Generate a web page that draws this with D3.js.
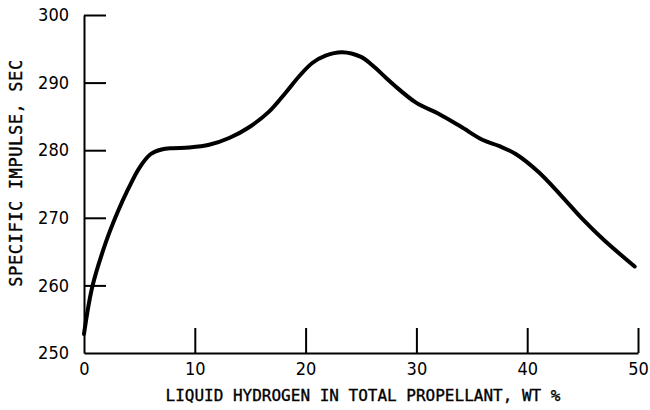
<!DOCTYPE html>
<html>
<head>
<meta charset="utf-8">
<script src="https://cdn.jsdelivr.net/npm/d3@7"></script>
<style>
  html, body { margin: 0; padding: 0; background: #fff; }
  svg { display: block; }
  .tick text { font-family: "Liberation Sans Narrow", "DejaVu Sans Condensed", "Liberation Sans", sans-serif; font-size: 18px; fill: #000; }
  .title { font-family: "DejaVu Sans Mono", "Liberation Mono", monospace; fill: #000; stroke: #000; stroke-width: 0.35px; }
</style>
</head>
<body>
<script>
// Data
const hydrogenPct = [0, 0.75, 2, 3, 4, 5, 6, 7, 8, 9.5, 11.3, 13.1, 14.9, 16.7, 18.2, 19.4, 20.6, 21.8, 23.3, 25, 26, 27.2, 28, 30, 32, 34, 36, 37.5, 39, 41, 43, 45, 47, 49.7];
const specificImpulse = [252.8, 259.8, 266.5, 270.7, 274.3, 277.4, 279.4, 280.1, 280.3, 280.4, 280.8, 281.8, 283.4, 285.7, 288.5, 290.9, 292.9, 294.0, 294.5, 293.8, 292.6, 290.8, 289.6, 287.0, 285.4, 283.5, 281.5, 280.6, 279.4, 276.8, 273.4, 269.8, 266.6, 262.8];
const xTicks = [0, 10, 20, 30, 40, 50];
const yTicks = [250, 260, 270, 280, 290, 300];
const xTitle = "LIQUID HYDROGEN IN TOTAL PROPELLANT, WT %";
const yTitle = "SPECIFIC IMPULSE, SEC";

const W = 650, H = 410;
const svg = d3.select("body").append("svg").attr("width", W).attr("height", H);

const x = d3.scaleLinear().domain([0, 50]).range([84, 638]);
const y = d3.scaleLinear().domain([250, 300]).range([353, 15]);

// Y axis
const gy = svg.append("g").attr("transform", `translate(${x(0)},0)`)
  .call(d3.axisLeft(y).tickValues(yTicks).tickSize(-22).tickSizeOuter(0).tickPadding(15).tickFormat(d3.format("d")));
gy.select(".domain").attr("stroke", "#000").attr("stroke-width", 2);
gy.selectAll(".tick line").attr("stroke", "#000").attr("stroke-width", 2)
  .filter(d => d === 250).remove();

// X axis
const gx = svg.append("g").attr("transform", `translate(0,${y(250)})`)
  .call(d3.axisBottom(x).tickValues(xTicks).tickSize(-25).tickSizeOuter(0).tickPadding(9).tickFormat(d3.format("d")));
gx.select(".domain").attr("stroke", "#000").attr("stroke-width", 2);
gx.selectAll(".tick line").attr("stroke", "#000").attr("stroke-width", 2)
  .filter(d => d === 0).remove();
gx.selectAll(".tick text").attr("y", 9);

// Axis titles
svg.append("text").attr("class", "title")
  .attr("x", 363).attr("y", 401)
  .attr("text-anchor", "middle")
  .style("font-size", "16px")
  .text(xTitle);

svg.append("text").attr("class", "title")
  .attr("transform", `translate(22,173) rotate(-90)`)
  .attr("text-anchor", "middle")
  .style("font-size", "17px")
  .style("letter-spacing", "0.6px")
  .text(yTitle);

// Curve
const pts = hydrogenPct.map((d, i) => [d, specificImpulse[i]]);
const line = d3.line().x(d => x(d[0])).y(d => y(d[1])).curve(d3.curveCatmullRom.alpha(0.5));
svg.append("path").datum(pts)
  .attr("d", line)
  .attr("fill", "none")
  .attr("stroke", "#000")
  .attr("stroke-width", 4)
  .attr("stroke-linecap", "round")
  .attr("stroke-linejoin", "round");
</script>
</body>
</html>
